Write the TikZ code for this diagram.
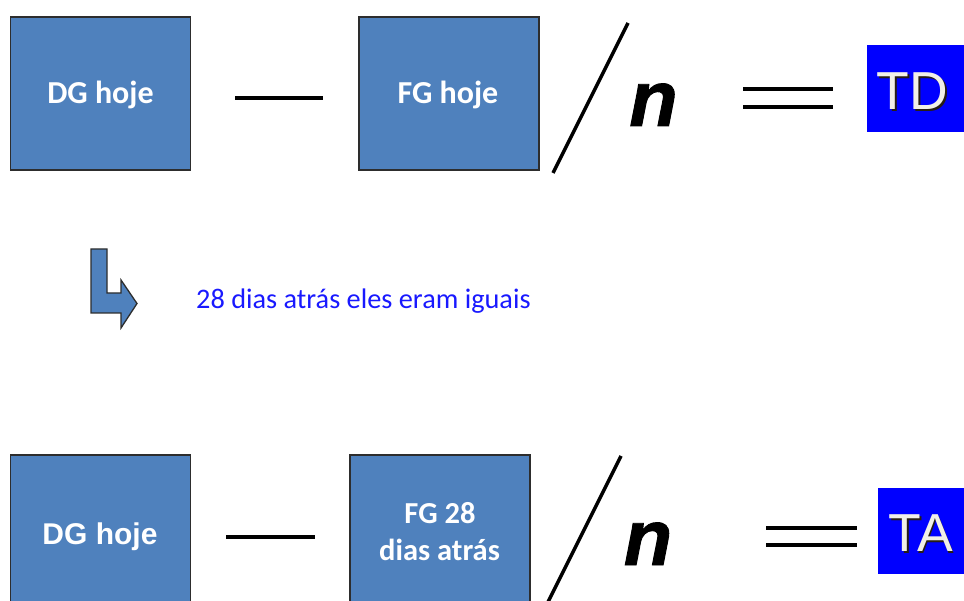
\documentclass[tikz,border=0pt]{standalone}
\usepackage{fontspec}
\setmainfont{Carlito}
\newfontfamily\arialf{Liberation Sans}
\newfontfamily\arialn[FakeBold=1.2]{Liberation Sans}
\definecolor{boxblue}{RGB}{79,129,189}
\definecolor{boxedge}{RGB}{45,45,45}
\definecolor{tblue}{RGB}{0,0,255}
\definecolor{txtblue}{RGB}{25,25,255}
\definecolor{cream}{RGB}{242,240,232}
\definecolor{shadowc}{RGB}{40,30,20}
\tikzset{
  gbox/.style={draw=boxedge, fill=boxblue, line width=1.2pt, inner sep=0pt, minimum width=180pt, minimum height=153pt},
  lbl/.style={text=white, inner sep=0pt, anchor=base, font=\bfseries\fontsize{32}{38}\selectfont},
  lblar/.style={text=white, inner sep=0pt, anchor=base, font=\arialf\bfseries\fontsize{30}{36}\selectfont},
  nn/.style={inner sep=0pt, anchor=base, font=\arialn\bfseries\itshape\fontsize{79}{90}\selectfont},
  bigt/.style={inner sep=0pt, anchor=base, text=cream, font=\arialf\fontsize{53.5}{60}\selectfont},
  bigs/.style={inner sep=0pt, anchor=base, text=shadowc, font=\arialf\fontsize{53.5}{60}\selectfont},
  opline/.style={line width=4pt, black},
  slash/.style={line width=3.5pt, black},
}
\begin{document}
\begin{tikzpicture}[x=1pt,y=-1pt]
\useasboundingbox (0,0) rectangle (964,601);
\clip (0,0) rectangle (964,601);
% top row
\node[gbox] (dg1) at (100.5,93.5) {};
\node[lbl] (dg1t) at (100.5,104) {DG hoje};
\coordinate (m1a) at (235,98);
\coordinate (m1b) at (323,98);
\draw[opline] (m1a) -- (m1b);
\node[gbox] (fg1) at (449,93.5) {};
\node[lbl] (fg1t) at (448,104) {FG hoje};
\coordinate (s1a) at (553,173);
\coordinate (s1b) at (628,23);
\draw[slash] (s1a) -- (s1b);
\node[nn] (n1) at (653.5,126) {n};
\coordinate (e1a) at (743,89.3);
\coordinate (e1b) at (833,89.3);
\coordinate (e1c) at (743,106.7);
\coordinate (e1d) at (833,106.7);
\draw[opline] (e1a) -- (e1b);
\draw[opline] (e1c) -- (e1d);
\node[fill=tblue, inner sep=0pt, minimum width=110pt, minimum height=87pt] (td) at (922,88.5) {};
\node[bigs] (tds) at (914,111.6) {TD};
\node[bigt] (tdt) at (912.5,110) {TD};
% middle
\draw[fill=boxblue, draw=boxedge, line width=1.3pt, line join=miter]
  (91,249) -- (107,249) -- (107,293) -- (121,293) -- (121,280) -- (137,303.5)
  -- (121,328) -- (121,313) -- (91,313) -- cycle;
\node[inner sep=0pt, anchor=base west, text=txtblue, font=\fontsize{28.3}{33}\selectfont] (msg) at (196,308.3) {28 dias atrás eles eram iguais};
% bottom row
\node[gbox] (dg2) at (100.5,531.5) {};
\node[lblar] (dg2t) at (100,544) {DG hoje};
\coordinate (m2a) at (226,537);
\coordinate (m2b) at (315,537);
\draw[opline] (m2a) -- (m2b);
\node[gbox] (fg2) at (440,531.5) {};
\node[lbl, font=\bfseries\fontsize{30.5}{36}\selectfont] (fg2t) at (440,523) {FG 28};
\node[lbl, font=\bfseries\fontsize{30.5}{36}\selectfont] (fg2u) at (439.5,560) {dias atrás};
\coordinate (s2a) at (546,606);
\coordinate (s2b) at (621,456);
\draw[slash] (s2a) -- (s2b);
\node[nn] (n2) at (648,565) {n};
\coordinate (e2a) at (766,527.7);
\coordinate (e2b) at (857,527.7);
\coordinate (e2c) at (766,545);
\coordinate (e2d) at (857,545);
\draw[opline] (e2a) -- (e2b);
\draw[opline] (e2c) -- (e2d);
\node[fill=tblue, inner sep=0pt, minimum width=100pt, minimum height=86pt] (ta) at (928,531) {};
\node[bigs] (tas) at (922.2,553.3) {TA};
\node[bigt] (tat) at (920.7,551.7) {TA};
\end{tikzpicture}
\end{document}
